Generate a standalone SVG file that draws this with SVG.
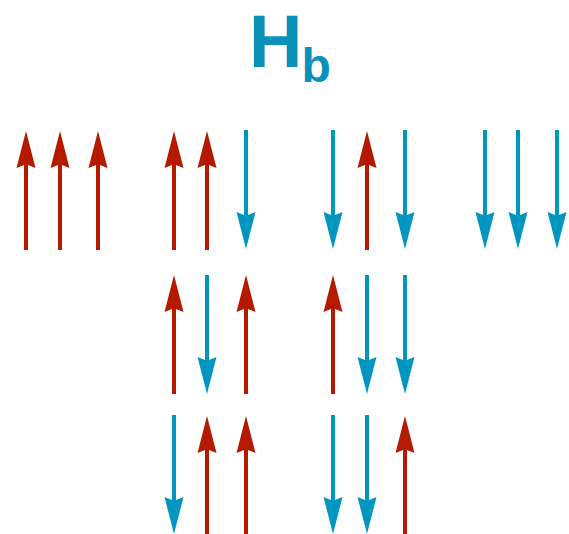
<svg xmlns="http://www.w3.org/2000/svg" xmlns:xlink="http://www.w3.org/1999/xlink" width="569" height="534" viewBox="0 0 569 534">
<style>
.up{fill:#b31a00}
.dn{fill:#0096bf}
.title{font-family:"Liberation Sans",Arial,sans-serif;font-weight:bold;fill:#0a91b8}
</style>
<defs>
<path id="upA" d="M0,0 L9.5,37 L2,34 L2,119 L-2,119 L-2,34 L-9.5,37 Z"/>
<path id="dnA" d="M-2,0 L2,0 L2,85 L9.5,82 L0,119 L-9.5,82 L-2,85 Z"/>
</defs>
<rect width="569" height="534" fill="#ffffff"/>
<g id="title"><text class="title" x="249" y="67" font-size="74">H<tspan font-size="48" dx="-1" dy="15">b</tspan></text></g>
<g id="arrows">
<g id="r1c1"><use href="#upA" class="up" x="26" y="131"/><use href="#upA" class="up" x="60" y="131"/><use href="#upA" class="up" x="98" y="131"/></g>
<g id="r1c2"><use href="#upA" class="up" x="174" y="131"/><use href="#upA" class="up" x="207" y="131"/><use href="#dnA" class="dn" x="246" y="130"/></g>
<g id="r1c3"><use href="#dnA" class="dn" x="333" y="130"/><use href="#upA" class="up" x="367" y="131"/><use href="#dnA" class="dn" x="405" y="130"/></g>
<g id="r1c4"><use href="#dnA" class="dn" x="485" y="130"/><use href="#dnA" class="dn" x="518" y="130"/><use href="#dnA" class="dn" x="557" y="130"/></g>
<g id="r2c2"><use href="#upA" class="up" x="174" y="275"/><use href="#dnA" class="dn" x="207" y="275"/><use href="#upA" class="up" x="246" y="275"/></g>
<g id="r2c3"><use href="#upA" class="up" x="333" y="275"/><use href="#dnA" class="dn" x="367" y="275"/><use href="#dnA" class="dn" x="405" y="275"/></g>
<g id="r3c2"><use href="#dnA" class="dn" x="174" y="415"/><use href="#upA" class="up" x="207" y="416"/><use href="#upA" class="up" x="246" y="416"/></g>
<g id="r3c3"><use href="#dnA" class="dn" x="333" y="415"/><use href="#dnA" class="dn" x="367" y="415"/><use href="#upA" class="up" x="405" y="416"/></g>
</g>
</svg>
